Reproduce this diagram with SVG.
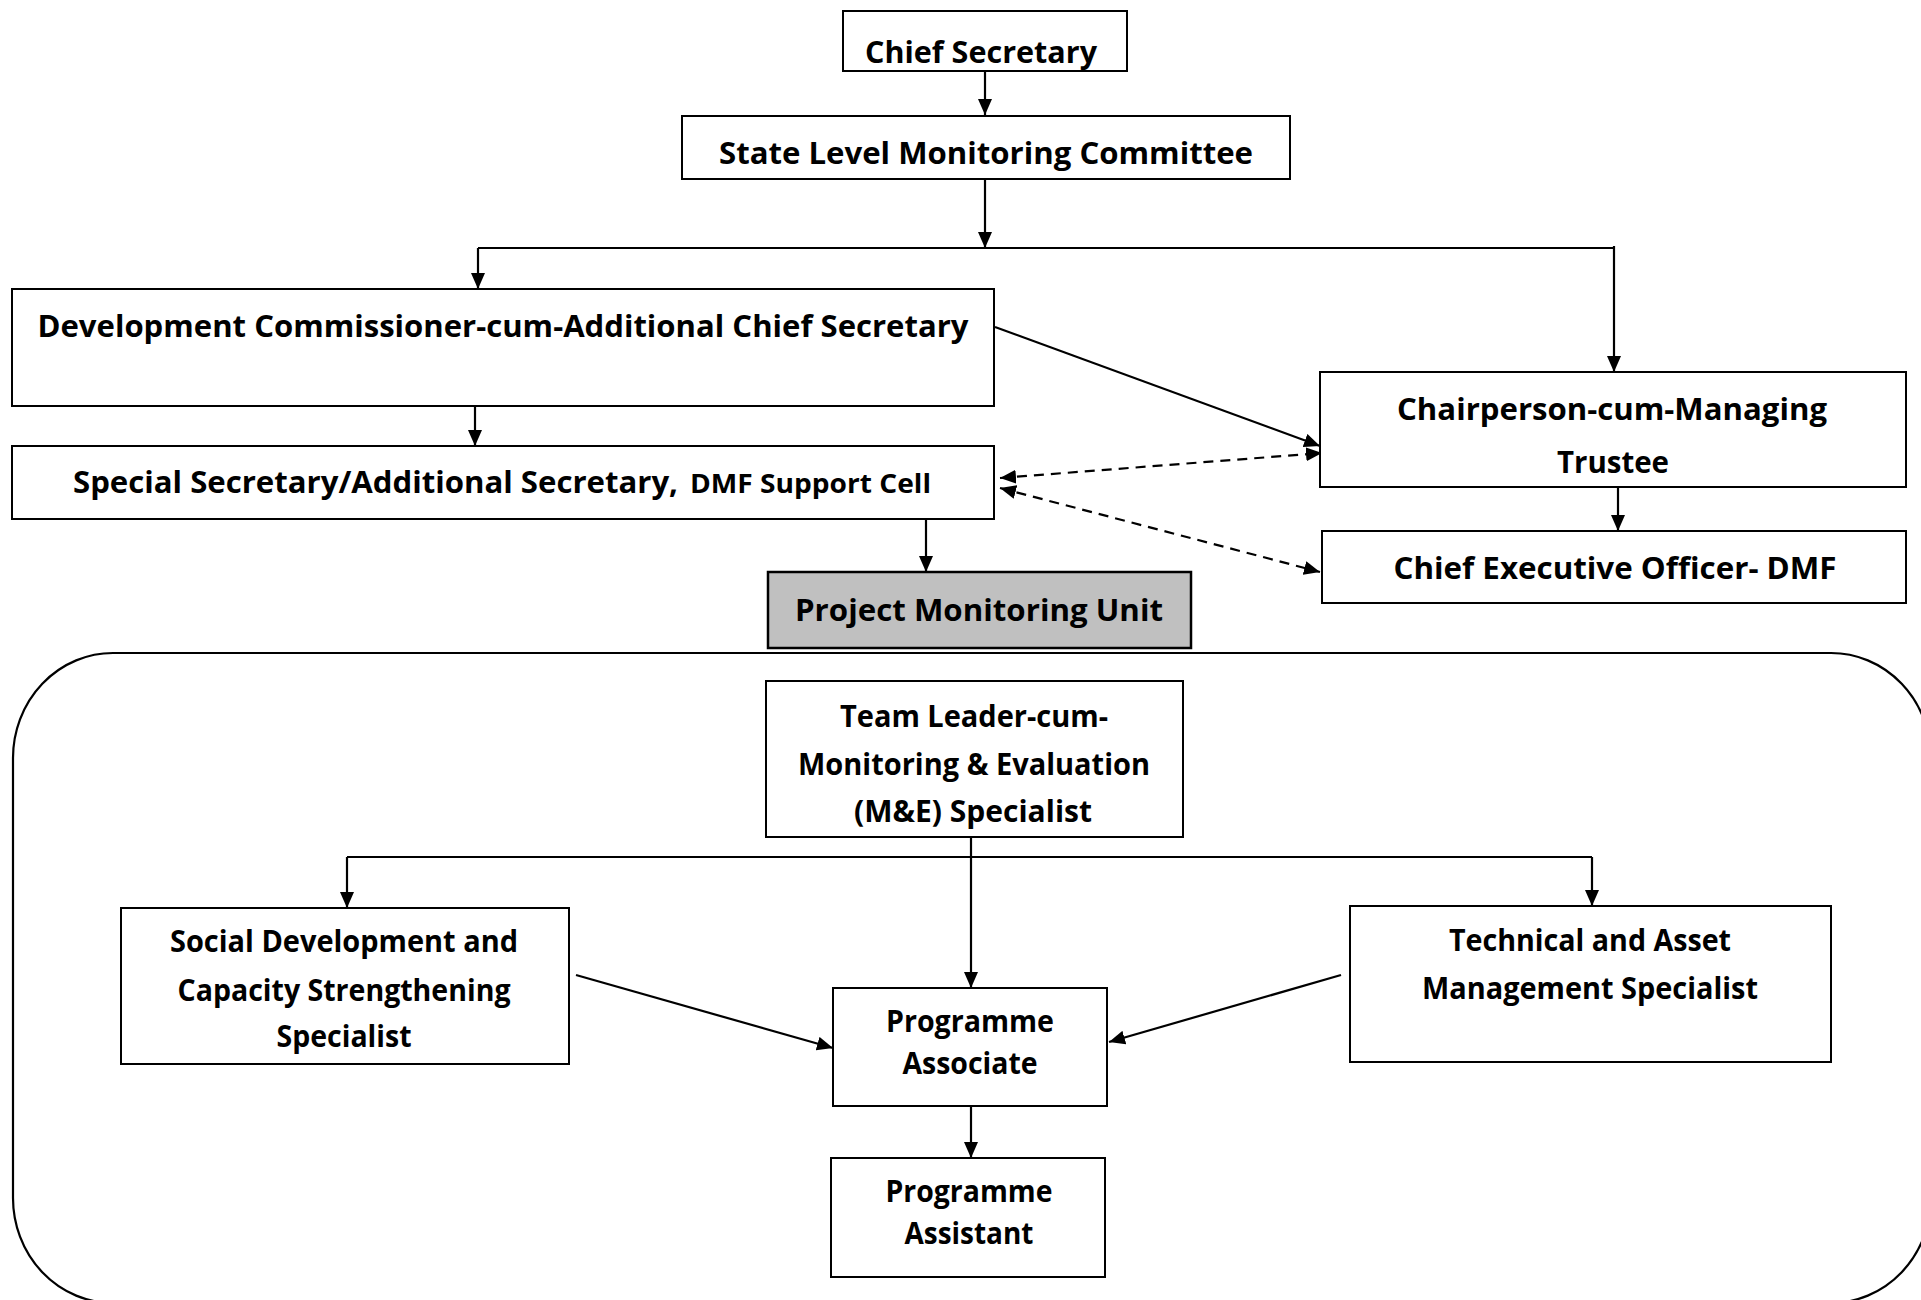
<svg xmlns="http://www.w3.org/2000/svg" width="1921" height="1300" viewBox="0 0 1921 1300">
<style>
.box{fill:#fff;stroke:#000;stroke-width:2}
.pmu{fill:#c0c0c0;stroke:#000;stroke-width:2.5}
.t{font-family:"Open Sans","Liberation Sans",sans-serif;font-weight:bold;font-size:31px;fill:#000;text-anchor:middle}
.c{fill:none;stroke:#000;stroke-width:2.2}
.a{marker-end:url(#ah)}
.d{stroke-dasharray:10 7;marker-start:url(#ah);marker-end:url(#ah)}
</style>
<defs>
<marker id="ah" markerUnits="userSpaceOnUse" markerWidth="16" markerHeight="14" refX="16" refY="7" orient="auto-start-reverse">
<path d="M0,0 L16,7 L0,14 Z" fill="#000"/>
</marker>
<clipPath id="csclip"><rect x="843" y="11" width="284" height="59"/></clipPath>
</defs>
<rect x="0" y="0" width="1921" height="1300" fill="#fff"/>
<g id="container">
<rect x="13" y="653" width="1918" height="650" rx="100" ry="105" fill="none" stroke="#000" stroke-width="2.2"/>
</g>
<g id="connectors">
<line class="c a" x1="985" y1="71" x2="985" y2="115"/>
<line class="c a" x1="985" y1="179" x2="985" y2="248"/>
<line class="c" x1="478" y1="248" x2="1614" y2="248"/>
<line class="c a" x1="478" y1="248" x2="478" y2="289"/>
<line class="c a" x1="1614" y1="246" x2="1614" y2="372"/>
<line class="c a" x1="475" y1="406" x2="475" y2="446"/>
<line class="c a" x1="995" y1="327" x2="1320" y2="446"/>
<line class="c d" x1="1000" y1="478" x2="1322" y2="453"/>
<line class="c d" x1="1000" y1="488" x2="1320" y2="572"/>
<line class="c a" x1="1618" y1="487" x2="1618" y2="531"/>
<line class="c a" x1="926" y1="519" x2="926" y2="572"/>
<line class="c a" x1="971" y1="837" x2="971" y2="988"/>
<line class="c" x1="347" y1="857" x2="1592" y2="857"/>
<line class="c a" x1="347" y1="857" x2="347" y2="908"/>
<line class="c a" x1="1592" y1="857" x2="1592" y2="906"/>
<line class="c a" x1="576" y1="975" x2="833" y2="1048"/>
<line class="c a" x1="1341" y1="975" x2="1109" y2="1042"/>
<line class="c a" x1="971" y1="1106" x2="971" y2="1158"/>
</g>
<g id="chief-secretary">
<rect class="box" x="843" y="11" width="284" height="60"/>
<text class="t" x="981" y="63" clip-path="url(#csclip)" textLength="232" lengthAdjust="spacingAndGlyphs">Chief Secretary</text>
</g>
<g id="slmc">
<rect class="box" x="682" y="116" width="608" height="63"/>
<text class="t" x="986" y="164" textLength="534" lengthAdjust="spacingAndGlyphs">State Level Monitoring Committee</text>
</g>
<g id="dev-commissioner">
<rect class="box" x="12" y="289" width="982" height="117"/>
<text class="t" x="503" y="337" textLength="931" lengthAdjust="spacingAndGlyphs">Development Commissioner-cum-Additional Chief Secretary</text>
</g>
<g id="special-secretary">
<rect class="box" x="12" y="446" width="982" height="73"/>
<text class="t" y="493" style="text-anchor:start"><tspan x="73" textLength="605" lengthAdjust="spacingAndGlyphs">Special Secretary/Additional Secretary,</tspan><tspan x="690" font-size="27" textLength="241" lengthAdjust="spacingAndGlyphs">DMF Support Cell</tspan></text>
</g>
<g id="chairperson">
<rect class="box" x="1320" y="372" width="586" height="115"/>
<text class="t" x="1612" y="420" textLength="430" lengthAdjust="spacingAndGlyphs">Chairperson-cum-Managing</text>
<text class="t" x="1613" y="473" textLength="112" lengthAdjust="spacingAndGlyphs">Trustee</text>
</g>
<g id="ceo">
<rect class="box" x="1322" y="531" width="584" height="72"/>
<text class="t" x="1615" y="579" textLength="443" lengthAdjust="spacingAndGlyphs">Chief Executive Officer- DMF</text>
</g>
<g id="pmu">
<rect class="pmu" x="768" y="572" width="423" height="76"/>
<text class="t" x="979" y="621" textLength="368" lengthAdjust="spacingAndGlyphs">Project Monitoring Unit</text>
</g>
<g id="team-leader">
<rect class="box" x="766" y="681" width="417" height="156"/>
<text class="t" x="974" y="727" textLength="268" lengthAdjust="spacingAndGlyphs">Team Leader-cum-</text>
<text class="t" x="974" y="775" textLength="352" lengthAdjust="spacingAndGlyphs">Monitoring &amp; Evaluation</text>
<text class="t" x="973" y="822" textLength="238" lengthAdjust="spacingAndGlyphs">(M&amp;E) Specialist</text>
</g>
<g id="social-dev">
<rect class="box" x="121" y="908" width="448" height="156"/>
<text class="t" x="344" y="952" textLength="348" lengthAdjust="spacingAndGlyphs">Social Development and</text>
<text class="t" x="344" y="1001" textLength="333" lengthAdjust="spacingAndGlyphs">Capacity Strengthening</text>
<text class="t" x="344" y="1047" textLength="135" lengthAdjust="spacingAndGlyphs">Specialist</text>
</g>
<g id="technical">
<rect class="box" x="1350" y="906" width="481" height="156"/>
<text class="t" x="1590" y="951" textLength="282" lengthAdjust="spacingAndGlyphs">Technical and Asset</text>
<text class="t" x="1590" y="999" textLength="336" lengthAdjust="spacingAndGlyphs">Management Specialist</text>
</g>
<g id="prog-associate">
<rect class="box" x="833" y="988" width="274" height="118"/>
<text class="t" x="970" y="1032" textLength="168" lengthAdjust="spacingAndGlyphs">Programme</text>
<text class="t" x="970" y="1074" textLength="135" lengthAdjust="spacingAndGlyphs">Associate</text>
</g>
<g id="prog-assistant">
<rect class="box" x="831" y="1158" width="274" height="119"/>
<text class="t" x="969" y="1202" textLength="167" lengthAdjust="spacingAndGlyphs">Programme</text>
<text class="t" x="969" y="1244" textLength="129" lengthAdjust="spacingAndGlyphs">Assistant</text>
</g>
</svg>
